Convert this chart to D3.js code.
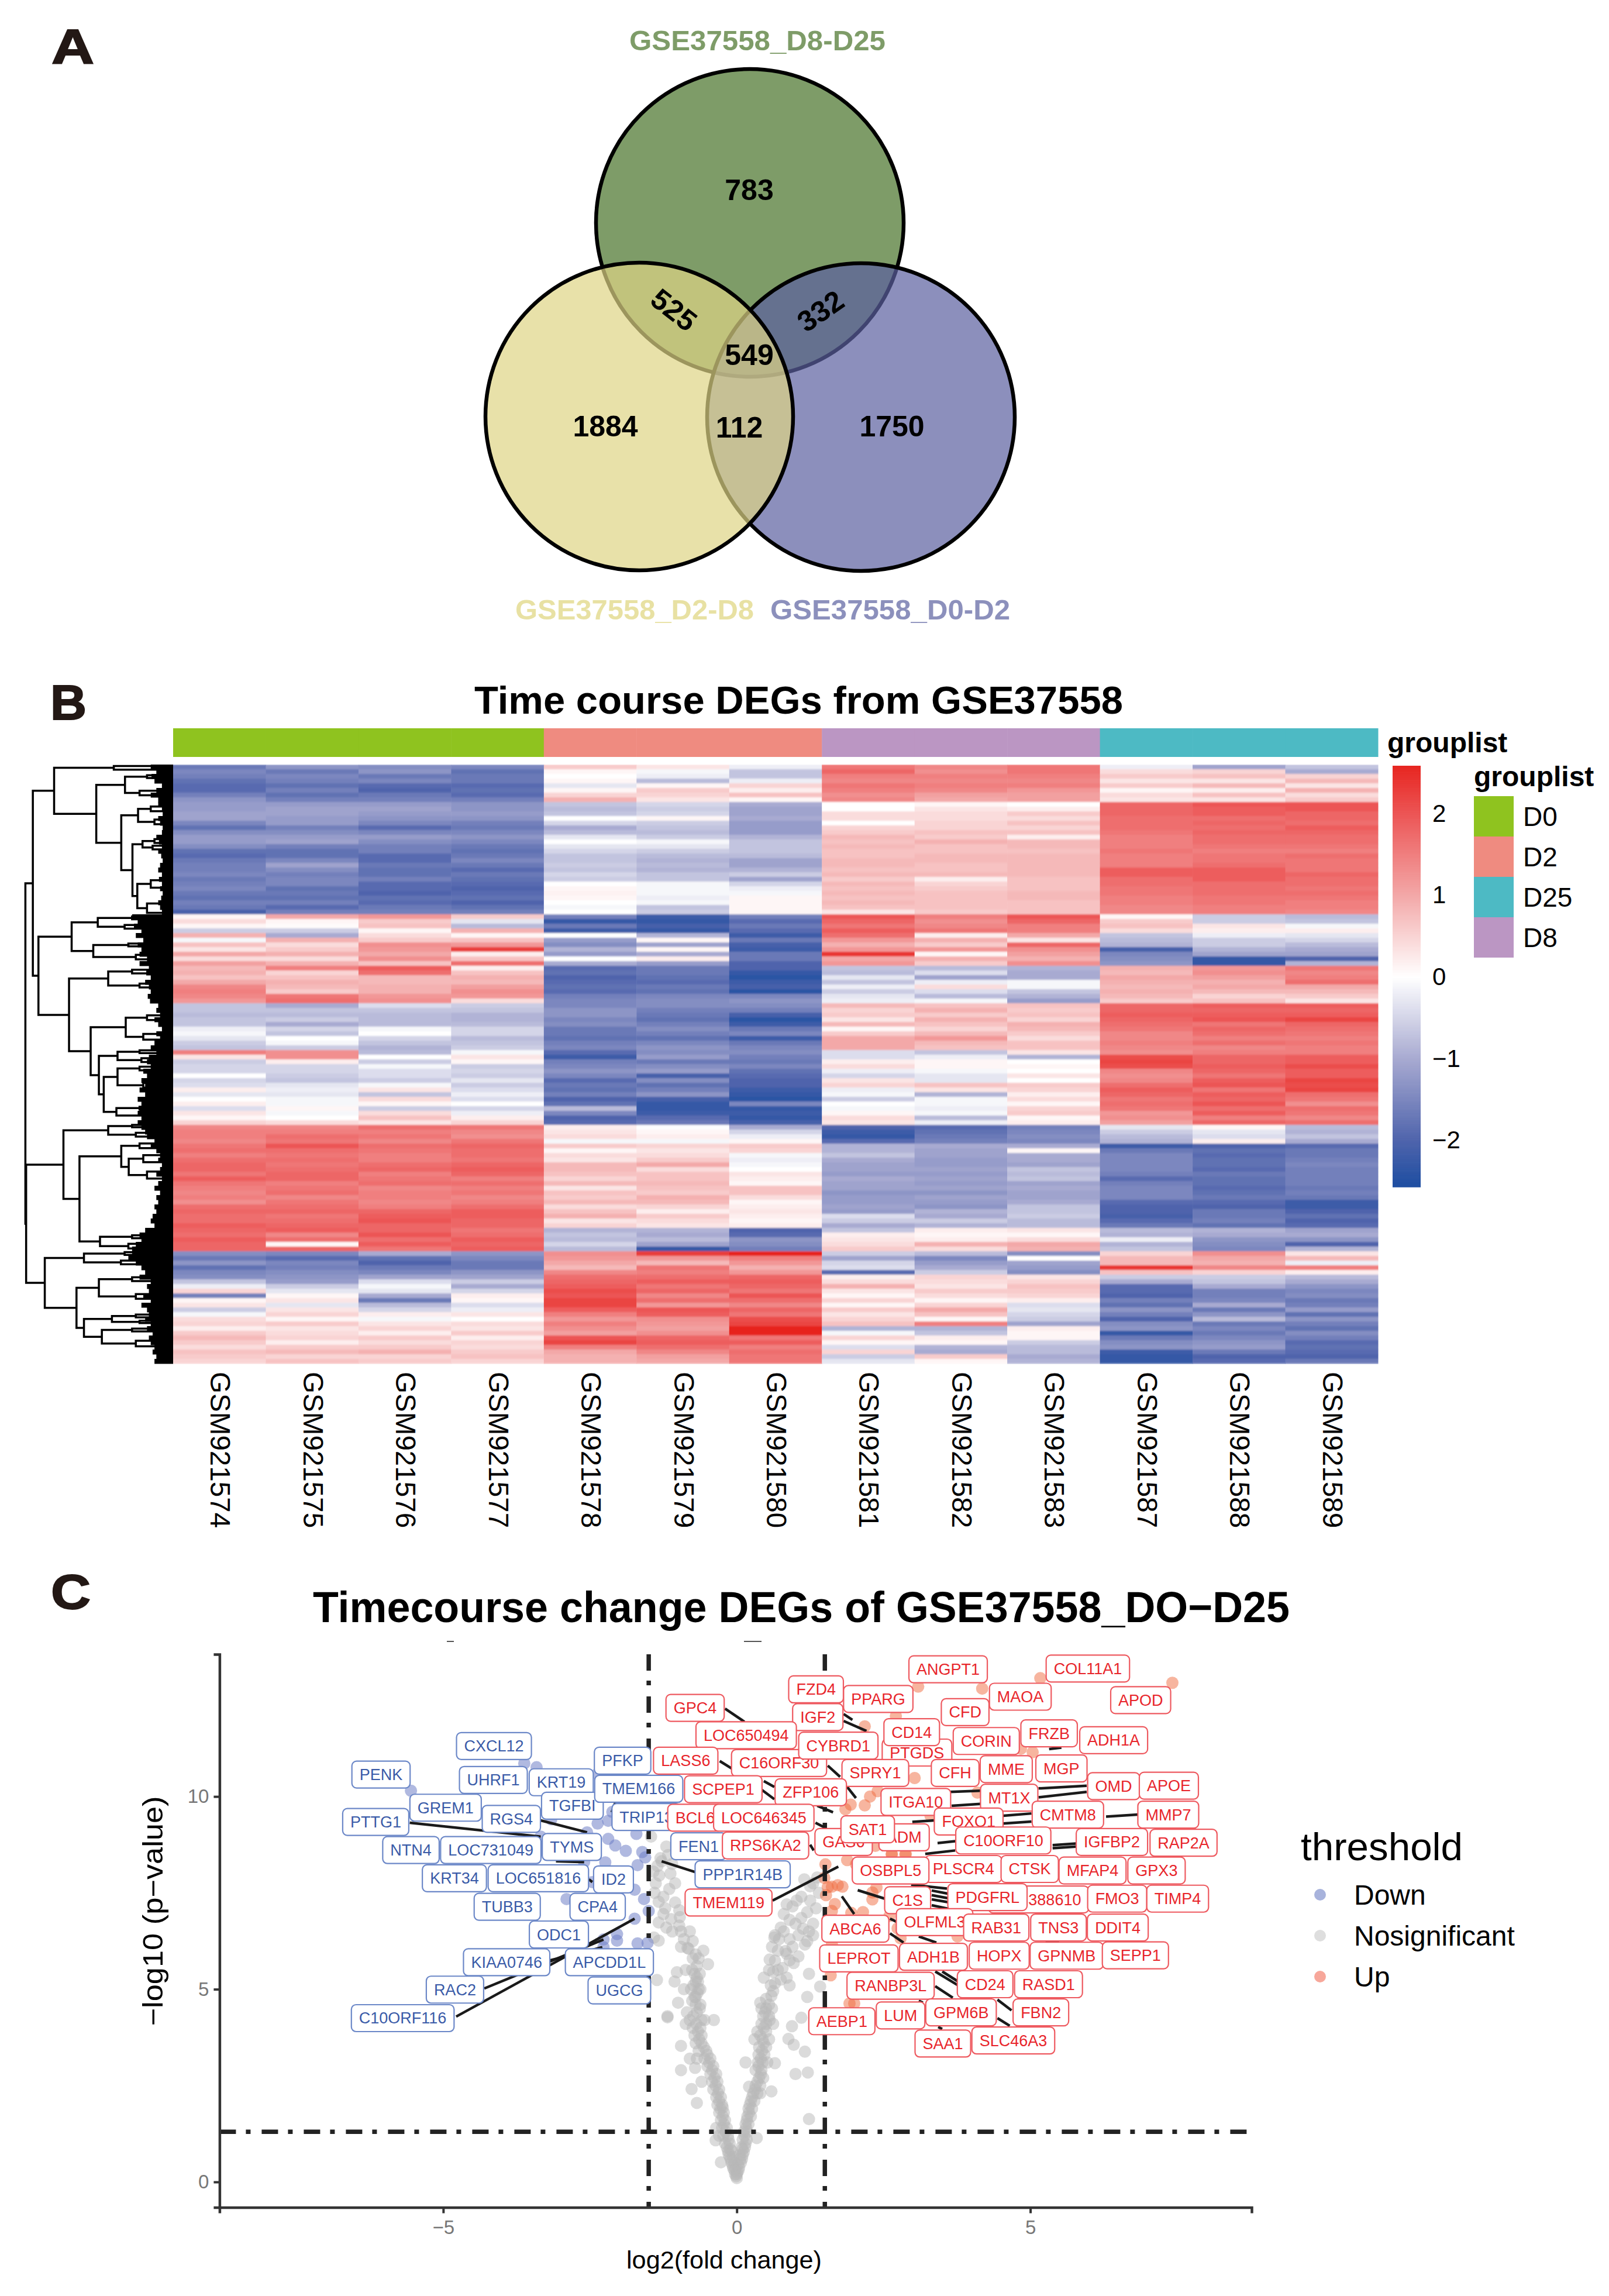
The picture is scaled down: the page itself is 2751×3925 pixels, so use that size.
<!DOCTYPE html>
<html><head><meta charset="utf-8">
<script src="https://cdn.jsdelivr.net/npm/d3@7"></script>
<style>html,body{margin:0;padding:0;background:#fff}svg{display:block;font-family:"Liberation Sans",Arial,sans-serif}</style>
</head><body><svg id="c" width="2751" height="3925"></svg>
<script>
// ---------- Panel A: Venn ----------
const vennSets = ["GSE37558_D8-D25","GSE37558_D0-D2","GSE37558_D2-D8"];
const vennCounts = ["783","525","332","549","1884","112","1750"];
// ---------- Panel B: heatmap samples (row z-scores, top to bottom) ----------
const samples = ["GSM921574","GSM921575","GSM921576","GSM921577","GSM921578","GSM921579","GSM921580","GSM921581","GSM921582","GSM921583","GSM921587","GSM921588","GSM921589"];
const sampleGroups = ["D0","D0","D0","D0","D2","D2","D2","D8","D8","D8","D25","D25","D25"];
const legendGroups = ["D0","D2","D25","D8"];
const groupColors = ["#8FC31F","#EF8B80","#4DBAC4","#BB96C3"];
const colorTicks = [-2,-1,0,1,2];
const z574=[-1.7,-1.5,-1.6,-1.8,-1.9,-1.9,-1.6,-1.3,-1.2,-1.2,-1.1,-1.1,-1.5,-1.8,-1.4,-1.2,-1.2,-1.4,-1.8,-1.9,-1.7,-1.6,-1.6,-1.5,-1.7,-1.6,-1.5,-1.7,-1.8,-1.6,-1.7,-2.1,.1,.4,.1,-.6,.9,-.1,.7,.3,1,.4,1.1,.8,.9,.7,1,1.4,1.5,1.4,1.2,-.7,-.7,-.8,-.7,-.7,-.2,-.1,-.3,-.6,-.7,1.5,.3,-.6,-.5,-.5,0,-.5,-.4,.2,-.3,0,.2,-.4,.3,.1,.5,1.4,1.5,1.5,1.4,1.6,1.7,1.5,1.7,1.8,1.8,1.6,1.9,1.6,1.5,1.4,1.5,1.3,1.7,1.8,1.7,1.7,1.9,1.8,1.7,1.9,1.8,1.8,-1.4,-1.7,-1.3,-1.8,-1.5,-1.4,-.7,-.2,.5,-1.6,.1,.3,-.6,-.1,.4,.5,.2,.6,.8,.6,.4,.7,.6,.5];
const z575=[-1.3,-1.7,-1.5,-1.6,-1.8,-1.6,-1.8,-1.6,-1.2,-1.1,-1.1,-1.2,-1.2,-1.6,-1.4,-1.2,-1.1,-1.6,-1.8,-1.8,-1.5,-1.1,-1.4,-1.6,-1.5,-1.5,-1.8,-1.7,-1.8,-1.6,-1.9,-1.6,1,.1,.05,-.6,-1,.9,.4,.6,.9,.4,.9,1.5,.5,.7,.9,.8,.6,1.6,1.7,-1,-.7,-.8,-.6,-1,-.5,-.7,0,-.1,-.6,1.3,1.3,.2,-.5,-.5,-.6,-.7,-.3,-.2,-.3,-.1,-.1,.1,-.1,0,.4,1.4,1.5,1.7,1.6,2,1.7,1.6,1.7,1.6,1.7,1.8,1.8,1.5,1.6,1.7,1.4,1.6,1.7,1.8,1.6,1.7,1.8,1.9,1.4,1.7,.1,1.8,-1.5,-1.9,-1.5,-1.6,-1.4,-1.3,-1.2,-.6,-.3,.1,.3,-.3,.3,.5,.1,.6,.3,.4,.5,.2,.6,.8,.5,.7];
const z576=[-1.4,-1.3,-1.7,-1.5,-1.9,-2,-1.7,-1.6,-1.2,-1.1,-1.2,-1.3,-1.5,-1.9,-1.5,-1.2,-1.4,-1.6,-1.6,-1.9,-1.9,-1.7,-1.8,-1.8,-1.6,-1.9,-1.9,-2,-1.8,-1.9,-1.7,-1.6,1.2,.6,.7,.1,.4,.6,1.3,1.2,1,1.3,.7,1.9,1.7,.8,.8,.9,.9,1.2,1.3,-.4,-.7,-.8,-.8,-.8,-.1,0,-.5,-.7,-.9,-.8,0,-.6,-.1,-.4,-.4,-.6,-.1,.3,-.7,.4,.1,-.6,.4,.7,.3,1.7,1.5,1.6,1.4,1.7,1.6,1.5,1.5,1.7,1.8,1.5,1.6,1.7,1.4,1.5,1.5,1.4,1.5,1.8,1.9,2,1.8,1.8,2,1.7,1.9,1.6,-1,-1.8,-2,-1.7,-1.5,-1.1,-.4,-.1,-.3,-1,-1.7,-.8,-.5,.2,-.1,.3,.5,.2,.6,.4,.6,.9,.5,.6];
const z577=[-1.5,-1.8,-1.7,-1.7,-1.9,-1.8,-1.9,-1.6,-1.3,-1.3,-1.2,-1.3,-1.6,-1.7,-1.5,-1.3,-1.5,-1.7,-1.8,-1.7,-1.5,-1.7,-1.9,-1.7,-1.8,-1.9,-2,-1.9,-1.8,-2,-1.8,-1.6,.6,-.3,-.8,.9,.1,.7,1.2,2.3,.2,.7,1.7,.2,.7,.9,.8,1.1,1.3,1.2,.4,-.6,-.7,-.9,-.9,-.8,-.5,-.5,-.8,-.7,-.6,-.1,.3,.1,-.6,-.5,-.6,-.3,-.6,-.4,-.2,-.4,0,-.5,-.2,.2,.5,1.6,1.4,1.3,1.6,1.8,1.7,1.7,1.6,1.8,1.9,1.8,1.5,1.7,1.5,1.6,1.4,1.5,1.7,1.9,1.9,1.8,1.8,1.6,1.7,1.9,1.8,1.9,-1.3,-1.5,-1.7,-1.7,-1.3,-1.1,-.6,-1,-.5,.2,.1,-.4,-.2,.3,0,.4,.3,.6,.2,.5,.4,.6,.7,.5];
const z578=[.6,.1,0,.1,-.3,.1,.5,.9,-.7,-.8,-.7,0,-.5,-1,-.8,-.3,0,-.3,-.5,-.7,-.7,-.6,-.7,-.5,-.6,0,.1,.15,.1,0,-.1,0,-1.6,-2.3,-1.7,-2.2,0,-1.2,-1.4,-.9,-1.2,0,-1,-1.9,-1.8,-2,-1.9,-1.8,-1.9,-1.6,-1.5,-1.5,-1.3,-1.3,-1.5,-1.4,-1.7,-1.7,-1.8,-1.6,-1.5,-1.9,-2.2,-1.6,-1.5,-1.3,-1.5,-1.9,-1.7,-1.8,-1.6,-2,-1.8,-.8,-1.5,-2,-1.9,.2,.3,.4,-.1,.6,.1,.4,.3,.8,.8,.7,.5,.8,.3,.7,.6,.8,.4,.7,.9,.3,.5,-.9,-.7,-.8,-.5,-.8,1.3,1.2,1,.8,1.4,1.7,1.8,1.9,2.1,2,2.2,2.2,1.9,1.5,1.2,1.5,1.3,1.1,2,2.2,1.5,1,.9,.9];
const z579=[.3,-.1,-.2,-.8,.1,.6,.5,.3,-.5,-.6,-.5,.1,-.6,-.7,-.8,-.6,-.1,-.3,-.6,-.8,-.9,-.8,-.9,-.7,-.7,-.1,-.1,-.1,-.2,-.1,-.7,-.6,-2.2,-2.3,-2.1,-2.3,-.9,.1,-1.1,.1,-1,.2,-1.2,-1.7,-1.7,-1.8,-1.9,-1.7,-1.8,-1.5,-1.4,-1.4,-1.6,-1.7,-1.8,-1.6,-1.4,-1.6,-1.8,-1.5,-1.3,-1.4,-1.2,-1.7,-1.4,-1.2,-2.1,-1.4,-1.8,-1.6,-1.3,-2.1,-2.3,-2.3,-2.2,-1.9,-1.7,0,.1,.2,-.1,.5,.3,.4,.6,1,.4,.7,.7,.8,.7,.6,.9,.8,.5,.2,.6,.4,.3,-.9,-1,-.8,-1.1,-2.3,2.3,1.2,.8,1.6,1.5,1.7,1.9,1.6,1.8,1.4,1.7,1.2,2,1.9,1.3,1.2,1.1,1.3,1.8,1.9,1.7,1.4,1.1,1];
const z580=[-.2,-.7,-.7,-.2,.5,.2,.7,.1,-1,-1.1,-1.1,-1,-1.2,-1.2,-1.2,-.9,-.7,-.7,-.7,-.8,-1.1,-1.1,-.9,-.6,-1.1,-.5,-.2,-.1,.1,.1,.1,.1,-1.6,-1.9,-1.7,-1.9,-2.2,-1.7,-2.1,-2.2,-1.7,-1.7,-2,-2,-2.3,-2.4,-2.2,-2.1,-2.4,-1.5,-1.3,-1.4,-1.6,-2.1,-2.4,-2.2,-1.7,-1.5,-2.2,-1.7,-1.5,-1.4,-1.6,-1.7,-1.5,-1.8,-1.9,-2,-2,-2.2,-2.3,-2.4,-1.5,-2.3,-2.2,-2.3,-2.1,-1,-.5,-.2,.1,.6,.5,-.1,-.2,-.1,0,.3,.2,.1,.7,.7,.4,.1,.2,.3,.2,.1,.2,-2,-1.9,-1.3,-1.4,-1.6,2.6,1.5,1.2,.9,1.2,1.8,1.9,1.8,1.6,2,1.7,1.4,1.8,1.6,2.1,2.2,2.6,2.6,1.6,1.9,1.5,1.7,1.6,1.6];
const z581=[1.6,1.8,1.5,1.4,1.6,1.5,1.3,1.4,0,0,.4,.4,0,.5,.6,.8,.7,.8,.7,.7,.8,.8,.7,.8,.6,.8,.7,.8,.7,.8,.7,.3,2,1.8,1.6,1.9,1.7,1.2,.9,1.2,2.4,1,1.2,-.7,-.8,-.3,-.7,-.2,-.6,-.3,-.2,.8,.5,.6,.3,.8,.1,.6,1,1,1,-.4,-.4,.2,.4,-.2,-.5,.3,.5,-.2,-.1,-.6,0,-.1,.1,.4,.3,-2,-2.2,-2.3,-1.9,-.9,-.9,-.7,-1,-1.1,-1.1,-1.2,-1,-1.1,-1.1,-1.3,-1.2,-1.2,-1.1,-1.2,-.4,-.6,-1,-.7,.2,.3,.4,.6,-.6,-1.1,-.5,-.4,-1.9,.2,.4,.9,.3,.1,.5,.1,.6,.3,.5,.7,-.9,-.1,.5,.1,-.4,.5,-.6,-.3];
const z582=[1.4,1.3,1.5,1.4,1.5,1.4,1.1,1,.1,.3,.4,.4,.5,.5,.7,.6,.9,.7,.7,.8,.8,.7,.7,.8,.2,.5,.6,.7,.7,.7,.7,.6,1.5,1.3,1.4,1.6,.2,.9,.6,1.2,.1,.9,.6,-.8,-.4,-1.1,-.2,.4,-.4,-.8,-.1,.7,.9,.6,.9,.7,.5,.8,1.2,.8,.7,-.7,-.2,.1,.1,-.1,-.3,-.3,.7,.3,-.9,-.1,-.1,-.2,-.1,-.8,-.2,-1.9,-1.8,-1.7,-1.6,-1,-1.1,-1.1,-1.2,-1.2,-1.1,-1.2,-1.1,-1.2,-1.1,-1.3,-1.1,-1.2,-1.3,-.9,-1,-.6,-.9,.2,.1,.2,.9,.4,-.8,-1.5,-1.2,-1,-.6,.5,.4,.3,.6,.4,.1,.5,1,.7,.1,1.5,-.9,-.7,.2,.1,-.9,-1,.6,.1];
const z583=[1.6,1.6,1.5,1.4,1.5,1.2,1.1,1.1,0,.2,.6,.4,.7,.5,.7,.2,.8,.8,.7,.8,.8,.8,.8,.8,.7,.7,.7,.8,.8,.7,.7,.7,2,1.8,1.5,1.5,1,.3,1.8,1.3,1.1,.9,1.3,-.9,-1,-1,-.1,-.1,-.7,-.9,-1.2,.7,.6,.7,.5,.9,.8,.6,.4,.7,.7,.3,-.9,0,.1,0,.3,0,.6,.5,.2,.4,.1,.5,.6,.1,.2,-1.6,-1.5,-1.4,-1.5,-1,.1,-1,-1,-1.1,-.7,-.8,-.7,-1.1,-1,-1.1,-1.1,-1,-.7,-.7,-.6,-.8,-.8,.3,.1,.4,1,.9,-1.4,0,-1.1,-1.2,-1.4,.3,.5,.7,.6,.5,.2,-.4,-.3,-.5,-.6,-1.1,.2,.1,.1,-.6,-.8,-.8,-1,-.9];
const z587=[-.2,.4,.6,.3,.6,.1,.4,.3,1.8,1.8,1.8,1.7,1.7,1.7,1.6,1.5,1.5,1.5,1.6,1.5,1.5,1.5,1.9,1.9,1.7,1.7,1.6,1.6,1.5,1.5,1.4,1.4,.1,.6,.7,.4,-.7,-.8,-.9,-2.1,-1.5,-1.4,-1.3,.9,.8,1,.9,.8,.9,.8,.6,1.8,1.8,1.9,1.8,1.7,1.6,1.4,1.4,1.5,1.4,1.3,2.1,2.2,2.1,1.4,1.3,1.4,1.7,1.9,1.8,1.6,1.7,1.6,1.2,1.3,1.1,-.3,-.6,-.8,-.9,-2.2,-1.7,-1.5,-1.5,-1.5,-1.5,-1.6,-1.9,-1.6,-1.5,-1.5,-1.5,-1.9,-2,-2,-2.1,-1.9,-1.7,-.8,-.9,-.2,-.9,-.7,.5,.8,.8,2.4,.7,-.6,-1,-1.9,-1.9,-2,-1.6,-1.8,-1.3,-1.6,-2,-1.4,-1.3,-2.3,-1.7,-1.4,-1.3,-2.2,-2.3,-2.3];
const z588=[-1.1,.5,.7,.3,.8,.2,.7,.3,2,1.9,1.9,1.7,1.8,1.7,1.8,1.7,1.7,1.6,1.5,1.6,1.6,1.7,1.9,1.9,1.9,1.7,1.7,1.7,1.6,1.6,1.5,1.5,-.6,-.6,.3,.2,-.2,-.6,-.6,-.9,-1.1,-2.3,-2.3,1.2,1.3,1.1,.9,1,.8,.5,.7,1.9,1.8,1.9,2,1.6,1.8,1.7,1.5,1.7,1.4,1.5,1.8,1.8,1.9,1.8,1.6,1.9,2,1.6,1.9,1.8,2,1.7,1.9,1.5,1.8,.1,-.3,-.4,.2,-2,-1.8,-1.9,-1.8,-1.8,-1.9,-1.7,-1.8,-1.8,-1.9,-1.8,-1.7,-1.9,-2,-1.7,-1.7,-1.6,-1.8,-.9,-1,-1.3,-1.4,-1.5,1.3,1,.9,1.4,.5,-.6,-.7,-1,-1.6,-1.6,-1.5,-1,-1.7,-1.3,-.8,-1.7,-1.5,-1.7,-1.5,-1.3,-1.2,-1.7,-2,-1.9];
const z589=[-.7,-1,.5,.8,.3,.9,.4,.6,2,2,1.8,1.8,1.7,1.9,1.8,1.7,1.7,1.6,1.5,1.7,1.6,1.6,1.6,1.8,1.7,1.7,1.6,1.7,1.6,1.5,1.5,1.4,-.8,-.7,-.1,.2,-.3,-.5,-.8,-1,-1.1,-2,-.9,1.6,1.4,1.5,1.7,1,.8,.6,.3,1.9,1.8,1.9,2.2,1.8,1.7,1.6,1.5,1.6,1.5,1.5,1.9,1.9,2.1,1.9,1.9,2.2,2.1,2.2,1.7,1.6,1.3,1.7,1.6,1.4,1.7,-.8,-.9,-.7,-1,-1.9,-1.7,-1.7,-1.6,-1.5,-1.6,-1.6,-1.6,-1.6,-1.7,-1.6,-1.7,-2.2,-2.2,-2,-1.8,-2,-1.9,-1.1,-1,-1.3,-2,-.9,.3,.8,-.2,1.5,.2,-.8,-1,-1.3,-1.5,-1.4,-1.7,-1.6,-1.2,-1.8,-1.3,-1.6,-1.8,-1.4,-1.6,-1.9,-1.8,-1.9,-2,-1.7];
const heatColumns = [z574,z575,z576,z577,z578,z579,z580,z581,z582,z583,z587,z588,z589];
// row dendrogram: [merge height, child, child]; a bare number is a leaf position
const rowTree = [396,
 [376,
  [319,
   [159,225,233],
   [206,
    [129,[70,245,251],[90,278,288]],
    [139,
     [94,[60,312,322],[50,340,350]],
     [109,[82,[50,382,390],[55,396,404]],[96,[60,470,486],[70,520,540]]]]]],
  [361,
   [272,[202,[110,548,554],[130,566,574]],[214,[120,606,612],[100,630,640]]],
   [279,
    [174,[110,662,670],[90,692,700]],
    [221,
     [127,[70,760,770],[80,800,812]],
     [199,
      [149,[90,835,841],[85,852,860]],
      [186,[149,[90,870,878],[80,905,915]],[152,[90,956,962],[70,972,978]]]]]]]],
 [394,
  [294,
   [174,[110,995,1000],[100,1012,1020]],
   [251,
    [139,[90,1035,1045],[119,[80,1060,1075],[70,1095,1110]]],
    [196,[110,1232,1238],[120,1250,1260]]]],
  [344,
   [239,[130,1268,1274],[140,1286,1294]],
   [259,
    [199,[110,1322,1330],[100,1358,1368]],
    [239,[164,[100,1402,1408],[90,1415,1420]],[191,[110,1432,1438],[100,1458,1470]]]]]]];
// height of the dense leaf tips per heat row
const leafTips = [60,45,58,50,30,45,60,40,40,30,28,40,35,28,30,45,38,30,40,32,28,35,40,30,38,30,35,28,32,40,35,30,110,95,105,85,100,80,95,85,90,70,90,65,72,60,75,65,60,68,62,40,45,35,50,40,30,45,35,50,60,45,65,70,60,80,70,85,75,90,75,95,85,90,95,85,95,85,75,70,50,60,45,35,40,30,35,45,30,40,50,35,45,40,50,45,55,60,50,75,90,85,100,110,110,120,100,85,75,90,60,70,65,80,60,85,70,65,75,60,70,55,65,60,50,55,45,50];
// ---------- Panel C: volcano ----------
const nosigPoints = [[0,.1],[0,.2],[-.03,.2],[-.06,.35],[-.02,.35],[.03,.3],[-.09,.5],[-.04,.5],[.07,.5],[.02,.45],[-.27,.51],[-.12,.65],[-.06,.65],[.1,.7],[.05,.7],[-.15,.8],[-.08,.8],[.14,.9],[.08,.9],[-.2,1],[-.12,1],[.17,1.1],[.1,1.1],[-.36,1.08],[.34,1.14],[-.23,1.2],[-.15,1.2],[-.3,1.2],[.18,1.3],[.12,1.3],[-.25,1.4],[-.17,1.4],[-.35,1.4],[.2,1.5],[.15,1.5],[-.27,1.6],[-.2,1.6],[.24,1.7],[.18,1.7],[1.23,1.63],[-.3,1.8],[-.22,1.8],[.26,1.9],[.2,1.9],[-.33,2],[-.25,2],[-.24,1.93],[.3,2.1],[.24,2.1],[-.35,2.2],[-.27,2.2],[-.68,2.05],[.35,2.3],[.28,2.3],[.4,2.3],[.59,2.35],[-.4,2.4],[-.3,2.4],[-.77,2.41],[.32,2.5],[.4,2.5],[.21,2.47],[-.42,2.6],[-.33,2.6],[-.6,2.6],[.38,2.7],[.45,2.7],[-.35,2.8],[-.45,2.8],[1,2.8],[1.21,2.84],[.42,2.9],[.32,2.9],[-.4,3],[-.5,3],[-.95,2.9],[-.71,2.96],[.36,3.1],[.44,3.1],[.52,3.1],[.65,3.08],[.15,3.1],[-.45,3.2],[-.55,3.2],[-.68,3.2],[-.8,3.2],[.37,3.3],[.47,3.3],[1.16,3.38],[-.52,3.4],[-.65,3.4],[.38,3.5],[.5,3.5],[.97,3.56],[-.6,3.6],[-.7,3.6],[-.95,3.53],[.3,3.7],[.44,3.7],[.55,3.7],[.88,3.71],[-.6,3.8],[-.72,3.8],[.35,3.9],[.5,3.9],[-.62,4],[-.75,4],[.94,4.04],[.42,4.1],[.5,4.1],[.62,4.1],[-.87,4.1],[-.6,4.2],[-.8,4.2],[-.55,4.2],[-.39,4.2],[-1.18,4.27],[1.1,4.26],[.45,4.3],[.55,4.3],[-1.18,4.3],[-.68,4.4],[-.85,4.4],[.5,4.5],[.42,4.5],[.6,4.5],[-.62,4.6],[-.7,4.6],[-1,4.65],[.4,4.65],[-.7,4.8],[-.72,4.8],[.59,4.83],[1.2,4.8],[-.62,5],[-.65,5],[-.78,5],[-.9,5],[1.42,5.07],[-.7,5.2],[-.66,5.2],[-1.06,5.2],[-1.36,5.24],[.85,5.3],[.46,5.3],[.65,5.15],[.9,5.1],[-.63,5.4],[-.72,5.4],[-1.02,5.44],[1.23,5.4],[.7,5.5],[.55,5.5],[-.87,5.5],[-.75,5.8],[-.65,5.8],[.65,5.74],[.97,5.68],[.56,5.77],[-.49,5.65],[.85,5.92],[.83,5.99],[.7,6],[-.84,6.07],[-.82,6.05],[-.57,6],[-1.33,6.26],[-1.41,6.34],[1.16,6.16],[.65,6.4],[.64,6.34],[.9,6.3],[1.23,6.5],[1.13,6.57],[-.95,6.5],[-.8,6.5],[-1.1,6.5],[.75,6.6],[1,6.7],[1.3,6.7],[-1.33,6.73],[-.97,6.87],[-1.12,6.82],[-1.25,6.95],[.8,6.95],[1.2,7],[.95,7.15],[1.35,7.1],[-1.33,7.27],[-1.15,7.6],[-1.4,7.5],[-1.25,7.4],[1.1,7.4],[1.25,7.67],[1.4,7.5],[1.37,7.9],[1.15,7.85],[-1.13,8],[-1.32,7.95],[-1.28,8.32],[-1.17,8.48],[-1.3,8.4],[-1.46,8.96],[-1.35,8.2],[-1.2,8.7],
 [-.01,.15],[.01,.25],[-.04,.3],[.04,.38],[-.07,.42],[.06,.6],[-.1,.58],[.09,.6],[-.14,.72],[.12,.78],[-.11,.85],[.1,.85],[-.17,.9],[.15,1],[-.14,1.1],[.13,1.2],[-.19,1.3],[.16,1.4],[-.22,1.5],[.17,1.6],[-.24,1.7],[.21,1.8],[-.28,1.9],[.22,2],[-.3,2.1],[.26,2.2],[-.32,2.3],[.31,2.4],[-.36,2.5],[.35,2.6],[-.38,2.7],[.41,2.8],[-.42,2.9],[.37,3],[-.47,3.1],[.41,3.2],[-.5,3.3],[.43,3.4],[-.56,3.5],[.46,3.6],[-.64,3.7],[.4,3.8],[-.66,3.9],[.46,4],[-.69,4.1],[.56,4.2],[-.74,4.3],[.48,4.4],[-.63,4.5],[.55,4.6],[-.76,4.7],[.5,4.75],[-.67,4.9],[.62,4.95],[-.74,5.1],[.58,5.1],[-.68,5.3],[.75,5.25],[-.76,5.5],[.62,5.45],[-.68,5.6],[.78,5.55],[.9,5.75],[-.7,5.9],[1.05,5.85],[.6,6.1],[-.95,6.1],[.95,6.1],[-.75,6.25],[1.05,6.4],[-.9,6.3],[.8,6.5],[1.2,6.25],[-.98,6.65],[.9,6.8],[-1.2,6.6],[1.1,6.85],[1.3,6.4],[.72,6.3],[-1.22,7.1],[.85,7.2],[1.02,7.3],[-1.05,7.25],[1.25,7.3],[1.3,7.75],[-1.38,7.75],[-1.42,8.05],[-1.05,7.75],[-1.1,8.25],[-.98,7.05]];
const downPoints = [[-3.62,10.86],[-3.41,10.76],[-5.55,10.15],[-2.37,10.59],[-2.37,9.3],[-2.19,9.37],[-3.16,9.41],[-2.19,8.9],[-2.07,8.73],[-1.89,8.59],[-1.71,9.03],[-1.61,8.56],[-1.56,8.42],[-1.69,8.22],[-2.24,8.29],[-1.74,7.58],[-2.9,7.34],[-1.58,7.34],[-1.5,7.03],[-2.04,6.43],[-2.04,6.26],[-1.69,6.19],[-2.75,7.27],[-2.55,9.07],[-2.6,8.3],[-1.74,6.83],[-2.27,6.29],[-2.27,6.09],[-2.12,9.6],[-3.34,8.96],[-2.46,7.78],[-1.52,6.2]];
const upPoints = [[3.09,12.85],[4.18,12.8],[5.17,13.07],[7.42,12.95],[2.71,12.09],[2.18,11.82],[5.04,11.15],[4.84,11.24],[3.03,10.48],[2.18,9.77],[1.94,9.79],[1.85,9.67],[2.4,10.14],[2.27,10],[2.64,8.51],[2.88,8.51],[2.36,8.72],[1.51,8.24],[1.49,7.89],[1.62,7.66],[1.8,7.66],[1.72,7.7],[1.52,7.44],[1.67,7.21],[1.62,7.03],[1.88,8.35],[2.03,8.24],[2.64,8.5],[2.87,8.5],[2.31,7.51],[2.31,7.33],[2.38,7.64],[2.74,6.58],[2.79,6.32],[3.76,6.37],[1.6,5.36],[2,4.63],[1.92,4.63],[1.62,6.17],[1.55,7.65],[1.95,6.98],[2.15,7],[3.3,9.5],[4.1,10.1],[2.6,6.9],[3.1,7.7]];
const connectors = [[-5.57,9.32,-3.34,8.96],[-3.34,9.38,-2.55,9.07],[-3.08,8.32,-2.6,8.3],[-2.52,7.85,-2.46,7.78],[-2.07,9.84,-2.13,9.59],[-1.28,8.32,-.69,8.03],[-4.78,4.29,-1.74,6.83],[-4.3,5.02,-2.27,6.29],[-3.18,5.75,-2.29,6.09],[-.2,12.28,.13,11.94],[1.82,12.14,1.97,11.99],[1.82,11.96,2.21,11.7],[-.29,10.92,-.08,10.72],[1.55,10.8,1.76,10.51],[.46,10.4,.64,10.25],[.43,10.17,.64,9.93],[1.88,10.25,2.03,9.96],[1.37,9.76,1.64,9.59],[1.34,9.32,1.52,9.18],[1.25,8.75,1.31,8.6],[3.63,10.12,4.15,10.15],[5.14,10.21,5.96,10.28],[5.14,9.98,5.96,10.12],[3.66,9.76,4.15,9.81],[4.54,9.5,5.02,9.56],[4.54,9.3,5.02,9.35],[6.29,9.48,6.83,9.53],[2.99,9.34,3.36,9.38],[3.42,8.79,3.72,8.84],[3.21,8.51,3.72,8.6],[5.38,8.74,5.78,8.78],[5.38,8.66,5.78,8.7],[5.32,11.23,5.53,11.27],[.61,7.3,1.73,8.18],[2.06,7.57,2.52,7.35],[1.79,7.41,2,6.95],[2.97,7.71,3.58,7.61],[3.32,7.56,3.6,7.48],[3.32,7.44,3.6,7.36],[3.32,7.33,3.6,7.26],[3.32,7.18,3.6,7.09],[2.61,6.83,2.72,6.75],[2.61,6.45,2.84,6.21],[3.1,6.37,3.4,6.21],[5.26,6.24,5.49,6.24],[3.38,5.46,3.76,5.11],[3.5,5.46,3.76,5.21],[3.38,5.08,3.68,4.78],[4.44,4.73,4.68,4.45],[4.44,4.25,4.65,4.05],[3.43,4.02,3.5,3.97],[3.1,4.7,3.17,4.65]];
const downLabels = [["CXCL12",-4.136,11.31],["PENK",-6.06,10.57],["UHRF1",-4.146,10.43],["KRT19",-2.99,10.37],["PFKP",-1.945,10.93],["GREM1",-4.96,9.71],["TGFBI",-2.8,9.76],["TMEM166",-1.67,10.2],["RGS4",-3.84,9.42],["PTTG1",-6.15,9.34],["TRIP13",-1.54,9.47],["NTN4",-5.55,8.61],["LOC731049",-4.19,8.61],["TYMS",-2.81,8.69],["KRT34",-4.81,7.88],["LOC651816",-3.38,7.88],["ID2",-2.1,7.85],["TUBB3",-3.91,7.14],["CPA4",-2.37,7.14],["ODC1",-3.03,6.42],["KIAA0746",-3.92,5.7],["APCDD1L",-2.17,5.7],["RAC2",-4.8,4.99],["UGCG",-2,4.97],["C10ORF116",-5.69,4.25],["FEN1",-.65,8.71],["PPP1R14B",.1,7.98]];
const upLabels = [["ANGPT1",3.6,13.3],["COL11A1",5.98,13.32],["FZD4",1.35,12.78],["PPARG",2.41,12.53],["MAOA",4.83,12.59],["APOD",6.88,12.5],["GPC4",-.71,12.3],["CFD",3.89,12.19],["IGF2",1.38,12.06],["LOC650494",.16,11.59],["PTGDS",3.07,11.14],["CD14",2.98,11.67],["FRZB",5.32,11.64],["ADH1A",6.42,11.46],["CORIN",4.25,11.44],["C16ORF30",.72,10.87],["CYBRD1",1.73,11.32],["LASS6",-.87,10.93],["SPRY1",2.36,10.61],["CFH",3.72,10.61],["MME",4.59,10.71],["MGP",5.53,10.73],["OMD",6.42,10.27],["APOE",7.36,10.28],["SCPEP1",-.23,10.19],["ZFP106",1.26,10.11],["ITGA10",3.05,9.86],["MT1X",4.64,9.97],["CMTM8",5.64,9.53],["MMP7",7.35,9.53],["BCL6",-.71,9.45],["LOC646345",.46,9.45],["FOXO1",3.95,9.35],["ADM",2.85,8.94],["GAS6",1.82,8.82],["SAT1",2.23,9.15],["C10ORF10",4.54,8.86],["IGFBP2",6.39,8.82],["RAP2A",7.61,8.8],["RPS6KA2",.49,8.73],["PLSCR4",3.86,8.12],["OSBPL5",2.62,8.08],["CTSK",4.99,8.12],["MFAP4",6.06,8.08],["GPX3",7.15,8.08],["LOC388610",5.14,7.33],["PDGFRL",4.27,7.39],["FMO3",6.48,7.35],["TIMP4",7.51,7.35],["C1S",2.91,7.31],["TMEM119",-.14,7.25],["OLFML3",3.37,6.74],["RAB31",4.42,6.6],["TNS3",5.48,6.6],["DDIT4",6.49,6.6],["ABCA6",2.02,6.57],["LEPROT",2.08,5.8],["ADH1B",3.35,5.84],["HOPX",4.47,5.87],["GPNMB",5.62,5.87],["SEPP1",6.79,5.88],["RANBP3L",2.62,5.09],["CD24",4.23,5.13],["RASD1",5.31,5.13],["LUM",2.79,4.32],["GPM6B",3.82,4.4],["FBN2",5.18,4.4],["AEBP1",1.79,4.17],["SAA1",3.51,3.59],["SLC46A3",4.71,3.67]];
const thresholdClasses = ["Down","Nosignificant","Up"];
const cutFold = [-1.5,1.5];
const cutP = 1.3;

const svg = d3.select("#c");
const ink = "#231815";
const defs = svg.append("defs");
defs.append("filter").attr("id","soft").attr("x",0).attr("y",0).attr("width",1).attr("height",1)
  .append("feGaussianBlur").attr("stdDeviation","0 1.6");
function txt(s,x,y,size,o={}){
  const t = svg.append("text").attr("x",x).attr("y",y).attr("font-size",size)
   .attr("fill",o.fill||"#000").attr("font-weight",o.bold?"bold":"normal")
   .attr("text-anchor",o.anchor||"start").text(s);
  if(o.len) t.attr("textLength",o.len).attr("lengthAdjust","spacingAndGlyphs");
  if(o.rot!==undefined) t.attr("transform",`rotate(${o.rot} ${x} ${y})`);
  if(o.stroke) t.attr("stroke",o.fill||"#000").attr("stroke-width",o.stroke);
  return t;
}
// panel letters
txt("A",88,109,84,{bold:1,fill:ink,len:73,stroke:2});
txt("B",86,1230,84,{bold:1,fill:ink,len:62,stroke:2});
txt("C",87,2750,84,{bold:1,fill:ink,len:68,stroke:2});

// ---------- Venn ----------
const vennLayout = {"GSE37558_D8-D25":[1282,381,"#7E9C68",1],"GSE37558_D0-D2":[1472,713,"#5B609F",.7],"GSE37558_D2-D8":[1093,712,"#DED484",.7]};
vennSets.forEach(k=>{
  const [cx,cy,col,a]=vennLayout[k];
  svg.append("circle").attr("cx",cx).attr("cy",cy).attr("r",263).attr("fill",col).attr("fill-opacity",a)
    .attr("stroke","#000").attr("stroke-width",6.5);
});
txt(vennSets[0],1295,86,49,{bold:1,fill:"#7E9C68",anchor:"middle",len:438});
txt(vennSets[2],1085,1059,49,{bold:1,fill:"#E8E1A3",anchor:"middle",len:408});
txt(vennSets[1],1522,1059,49,{bold:1,fill:"#8C90BC",anchor:"middle",len:410});
const vennPos=[[1281,342,0],[1152,530,38],[1403,532,-35],[1281,624,0],[1035,746,0],[1264,748,0],[1525,746,0]];
vennCounts.forEach((c,i)=>{
  const [x,y,r]=vennPos[i];
  const t=txt(c,x,y,50,{bold:1,anchor:"middle"});
  if(r) t.attr("dy",17).attr("y",y).attr("transform",`rotate(${r} ${x} ${y})`);
});

// ---------- Heatmap ----------
txt("Time course DEGs from GSE37558",811,1220,67,{bold:1,len:1109});
const heatTop=1307, heatBottom=2331, heatLeft=296, heatRight=2356;
const nRows=heatColumns[0].length;
const xBand=d3.scaleBand().domain(samples).range([heatLeft,heatRight]);
const yBand=d3.scaleBand().domain(d3.range(nRows)).range([heatTop,heatBottom]);
const colorZ=d3.scaleLinear().domain([-2.58,-2,-1,0,1,2,2.58]).range(["#1C4DA1","#4F64AC","#A8AAD1","#FFFFFF","#F3A8A8","#EC5555","#E72621"]);
const groupColor=d3.scaleOrdinal(legendGroups,groupColors);
svg.append("g").selectAll("rect").data(samples).join("rect")
  .attr("x",d=>xBand(d)).attr("y",1245).attr("width",xBand.bandwidth()+.5).attr("height",49)
  .attr("fill",(d,i)=>groupColor(sampleGroups[i]));
heatColumns.forEach((col,ci)=>{
  svg.append("g").attr("filter","url(#soft)").selectAll("rect").data(col).join("rect")
    .attr("x",xBand(samples[ci])).attr("width",xBand.bandwidth()+.5)
    .attr("y",(d,i)=>yBand(i)).attr("height",yBand.bandwidth()+.5)
    .attr("fill",d=>colorZ(d));
});
samples.forEach(s=>{
  const x=xBand(s)+xBand.bandwidth()/2;
  txt(s,x-15,2345,47.6,{rot:90});
});
// dendrogram
const hScale=d3.scaleLinear().domain([0,396]).range([296,43.4]);
const posScale=d3.scaleLinear().domain([222,1507]).range([1307,2331]);
const root=d3.hierarchy(rowTree,d=>Array.isArray(d)?d.slice(1):null);
root.eachAfter(n=>{
  if(n.children){n.pos=d3.mean(n.children,c=>c.pos);n.h=n.data[0];}
  else{n.pos=n.data;n.h=0;}
});
const dg=svg.append("g").attr("fill","none").attr("stroke","#000").attr("stroke-width",3.5);
root.descendants().filter(n=>n.children).forEach(n=>{
  const [a,b]=n.children;
  const path=d3.path();
  path.moveTo(hScale(a.h),posScale(a.pos));
  path.lineTo(hScale(n.h),posScale(a.pos));
  path.lineTo(hScale(n.h),posScale(b.pos));
  path.lineTo(hScale(b.h),posScale(b.pos));
  dg.append("path").attr("d",path.toString());
});
svg.append("g").selectAll("rect").data(leafTips).join("rect")
  .attr("x",d=>hScale(d)).attr("width",d=>hScale(0)-hScale(d))
  .attr("y",(d,i)=>yBand(i)).attr("height",yBand.bandwidth()+.5).attr("fill","#000");
// colour bar
const barScale=d3.scaleLinear().domain([2.58,-2.58]).range([1309,2029]);
svg.append("g").selectAll("rect").data(d3.range(2.58,-2.58,-0.02)).join("rect")
  .attr("x",2381).attr("width",48).attr("y",d=>barScale(d)).attr("height",3.5).attr("fill",d=>colorZ(d));
colorTicks.forEach(t=>{
  txt(d3.format("")(t),2449,barScale(t)+15,42);
});
txt("grouplist",2372,1286,48,{bold:1});
txt("grouplist",2520,1344,48,{bold:1});
legendGroups.forEach((g,i)=>{
  const y=1361+i*69;
  svg.append("rect").attr("x",2520).attr("y",y).attr("width",68).attr("height",69).attr("fill",groupColor(g));
  txt(g,2604,y+51,46);
});

// ---------- Volcano ----------
txt("Timecourse change DEGs of GSE37558_DO\u2212D25",535,2773,74,{bold:1,len:1670});
const x=d3.scaleLinear().domain([-8.81,8.77]).range([375.4,2140]);
const y=d3.scaleLinear().domain([-.66,13.69]).range([3773.5,2828]);
function dots(data,col,op,r=10.5){
  svg.append("g").selectAll("circle").data(data).join("circle")
   .attr("cx",d=>x(d[0])).attr("cy",d=>y(d[1])).attr("r",r).attr("fill",col).attr("fill-opacity",op);
}
dots(nosigPoints,"#B8B8B8",.5);
dots(downPoints,"#6F7FC6",.55);
dots(upPoints,"#EF6B3F",.5);
const dash="28 17 8 19";
cutFold.forEach(v=>{
  svg.append("line").attr("x1",x(v)).attr("x2",x(v)).attr("y1",y.range()[1]).attr("y2",y.range()[0])
    .attr("stroke","#222").attr("stroke-width",7.5).attr("stroke-dasharray",dash);
});
svg.append("line").attr("x1",x.range()[0]).attr("x2",x.range()[1]).attr("y1",y(cutP)).attr("y2",y(cutP))
  .attr("stroke","#222").attr("stroke-width",7.5).attr("stroke-dasharray",dash);
svg.append("g").selectAll("line").data(connectors).join("line")
  .attr("x1",d=>x(d[0])).attr("y1",d=>y(d[1])).attr("x2",d=>x(d[2])).attr("y2",d=>y(d[3]))
  .attr("stroke","#1a1a1a").attr("stroke-width",4.5);
function labels(data,textCol,boxCol){
  data.forEach(d=>{
    const g=svg.append("g");
    const t=g.append("text").attr("x",x(d[1])).attr("y",y(d[2])+9.5).attr("text-anchor","middle")
      .attr("font-size",27).attr("fill",textCol).text(d[0]);
    const w=t.node().getComputedTextLength()+26;
    g.insert("rect","text").attr("x",x(d[1])-w/2).attr("y",y(d[2])-23).attr("width",w).attr("height",46)
      .attr("rx",8).attr("fill","#fff").attr("stroke",boxCol).attr("stroke-width",2.2);
  });
}
labels(downLabels,"#3A5BA8","#6C88C8");
labels(upLabels,"#E8252B","#EE5A60");
const xAxis=svg.append("g").attr("transform","translate(0,3773.5)").call(d3.axisBottom(x).tickValues([-5,0,5]).tickSize(10).tickPadding(12));
const yAxis=svg.append("g").attr("transform","translate(375.4,0)").call(d3.axisLeft(y).tickValues([0,5,10]).tickSize(10).tickPadding(8));
[xAxis,yAxis].forEach(a=>{
  a.attr("font-family",null);
  a.select(".domain").attr("stroke","#333").attr("stroke-width",4.5);
  a.selectAll(".tick line").attr("stroke","#333").attr("stroke-width",4);
  a.selectAll("text").attr("font-size",33).attr("fill","#777");
});
txt("log2(fold change)",1238,3878,43,{anchor:"middle",len:334});
txt("\u2212log10 (p\u2212value)",278,3267,48,{anchor:"middle",rot:-90,len:393});
[[764,776],[1272,1302]].forEach(s=>svg.append("line").attr("x1",s[0]).attr("x2",s[1]).attr("y1",2806).attr("y2",2806).attr("stroke","#555").attr("stroke-width",2));
// threshold legend
txt("threshold",2224,3180,66,{len:277});
const legendDots={Down:"#A8B3DC",Nosignificant:"#DEDEDE",Up:"#F7A79A"};
thresholdClasses.forEach((c,i)=>{
  const yy=3239+i*70;
  svg.append("circle").attr("cx",2257).attr("cy",yy).attr("r",10).attr("fill",legendDots[c]);
  txt(c,2315,yy+17,48);
});
</script></body></html>
